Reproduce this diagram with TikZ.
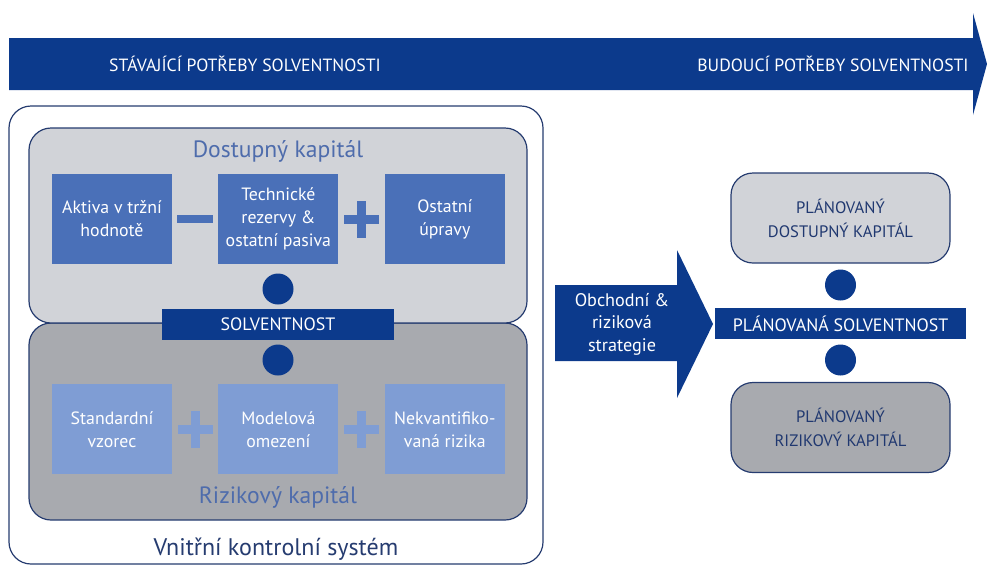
\documentclass[tikz,border=0pt]{standalone}
\usepackage{fontspec}
\setmainfont{PT Sans}
\usetikzlibrary{calc,positioning}

\begin{document}
\begin{tikzpicture}[
    x=1pt,y=-1pt,
    panel/.style={draw=frame,line width=1.2pt,rounded corners=22pt,fill=#1},
    item/.style={fill=#1,text=white,minimum width=120pt,minimum height=90pt,
      inner sep=2pt,align=center,font=\fontsize{17.8}{23}\selectfont},
    bar/.style={fill=navy,text=white,minimum height=31pt,inner sep=0pt,
      font=\fontsize{17.9}{20}\selectfont},
    plan/.style={panel=#1,minimum width=219pt,minimum height=90pt,align=center,
      text=plantext,font=\fontsize{16.6}{24}\selectfont},
    title/.style={text=heading,font=\fontsize{23.6}{26}\selectfont},
    sign/.style={fill=#1,inner sep=0pt}
  ]
  \definecolor{navy}{RGB}{12,58,140}
  \definecolor{frame}{RGB}{38,60,112}
  \definecolor{midblue}{RGB}{74,112,184}
  \definecolor{lightblue}{RGB}{127,157,212}
  \definecolor{lightgray}{RGB}{209,211,216}
  \definecolor{darkgray}{RGB}{168,170,175}
  \definecolor{heading}{RGB}{78,108,172}
  \definecolor{plantext}{RGB}{32,56,112}
  \useasboundingbox (0,0) rectangle (987,566);
  % horni sipka
  \fill[navy] (9,38) -- (973,38) -- (973,13) -- (987,64) -- (973,115)
    -- (973,90) -- (9,90) -- cycle;
  \node[text=white,font=\fontsize{17.7}{20}\selectfont] (now) at (245,64)
    {STÁVAJÍCÍ POTŘEBY SOLVENTNOSTI};
  \node[text=white,font=\fontsize{17.7}{20}\selectfont] (future) at (833,64)
    {BUDOUCÍ POTŘEBY SOLVENTNOSTI};
  % vnitrni kontrolni system
  \node[panel=white,minimum width=534pt,minimum height=458pt] (vks) at (276,335) {};
  \node[text=frame,font=\fontsize{24}{26}\selectfont,above=1pt of vks.south] (vkslabel)
    {Vnitřní kontrolní systém};
  \node[panel=darkgray,minimum width=498pt,minimum height=197pt] (rk) at (278,421.5) {};
  \node[panel=lightgray,minimum width=498pt,minimum height=195pt] (dk) at (278,225.5) {};
  \node[title] (dktitle) at (278,151) {Dostupný kapitál};
  \node[title] (rktitle) at (278,497) {Rizikový kapitál};
  % dostupny kapital
  \node[item=midblue] (a1) at (112,219) {Aktiva v tržní\\hodnotě};
  \node[item=midblue,right=46pt of a1] (a2) {Technické\\rezervy \&\\ostatní pasiva};
  \node[item=midblue,right=46pt of a2] (a3) {Ostatní\\úpravy};
  % rizikovy kapital
  \node[item=lightblue,below=120pt of a1] (r1) {Standardní\\vzorec};
  \node[item=lightblue,right=46pt of r1] (r2) {Modelová\\omezení};
  \node[item=lightblue,right=46pt of r2] (r3) {Nekvantifiko-\\vaná rizika};
  % znamenka
  \node[sign=midblue,minimum width=36pt,minimum height=8pt] (minus) at ($(a1)!.5!(a2)$) {};
  \foreach \l/\r/\c in {a2/a3/midblue,r1/r2/lightblue,r2/r3/lightblue}{
    \node[sign=\c,minimum width=35pt,minimum height=9pt] (h-\l) at ($(\l)!.5!(\r)$) {};
    \node[sign=\c,minimum width=9pt,minimum height=37pt] (v-\l) at ($(\l)!.5!(\r)$) {};
  }
  \node[bar,minimum width=232pt] (solv) at (278,324.5) {SOLVENTNOST};
  % obchodni a rizikova strategie
  \fill[navy] (555,285) -- (677,285) -- (677,250) -- (713,324) -- (677,398)
    -- (677,361) -- (555,361) -- cycle;
  \node[text=white,align=center,font=\fontsize{18.2}{22.5}\selectfont] (strat) at (622,324)
    {Obchodní \&\\riziková\\strategie};
  % planovana solventnost
  \node[bar,minimum width=251pt] (psolv) at (840.5,323.5) {PLÁNOVANÁ SOLVENTNOST};
  \node[plan=lightgray] (pdk) at (840.5,218) {PLÁNOVANÝ\\DOSTUPNÝ KAPITÁL};
  \node[plan=darkgray] (prk) at (840.5,427.5) {PLÁNOVANÝ\\RIZIKOVÝ KAPITÁL};
  \coordinate (d1) at (278,289);
  \coordinate (d2) at (278,360);
  \coordinate (d3) at (840.5,285);
  \coordinate (d4) at (840.5,360);
  \foreach \point in {d1,d2,d3,d4}
  \fill[navy] (\point) circle (15.5pt);
\end{tikzpicture}
\end{document}
